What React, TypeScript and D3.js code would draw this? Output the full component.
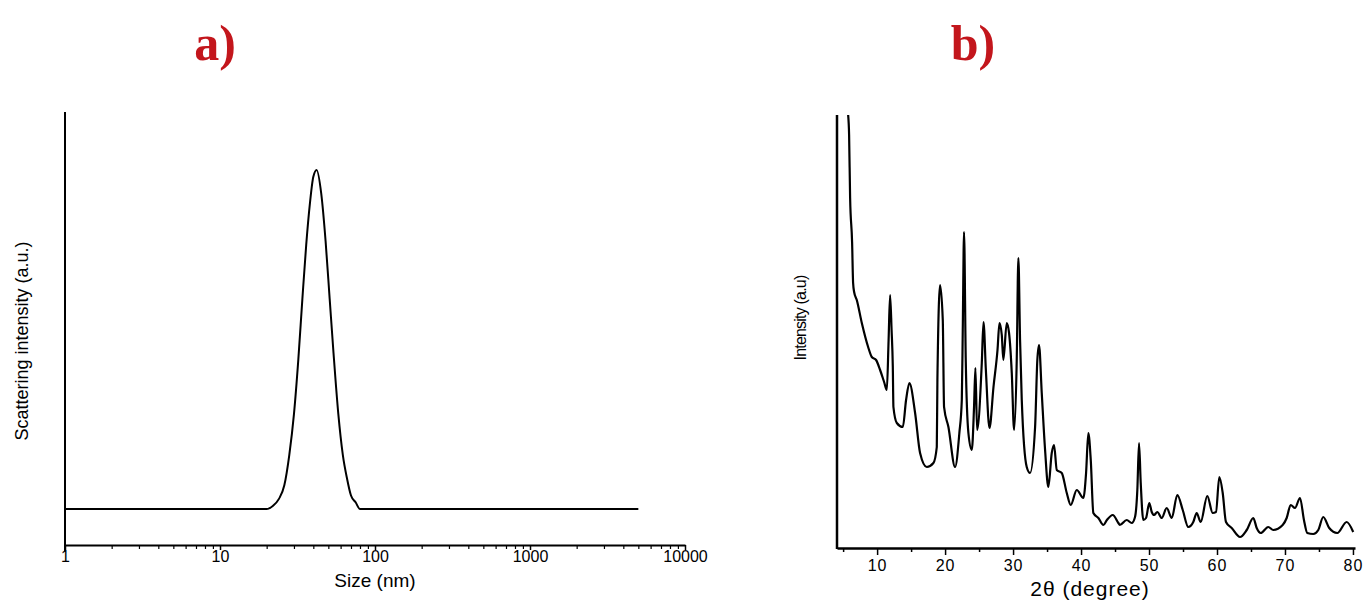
import React, { useEffect, useRef } from "react";
import * as d3 from "d3";

// a) DLS size distribution (nm vs relative intensity)
const dlsSize = [1, 20, 22, 24, 26, 28, 30, 32, 34, 36, 38, 40, 42, 45, 48, 51, 54, 58, 62, 66, 70, 75, 80, 5000];
const dlsIntensity = [0, 0, 1, 3, 7, 16, 28, 44, 62, 78, 90, 98, 100, 93, 79, 62, 46, 28, 16, 9, 4, 2, 0, 0];
const sizeMajor = [1, 10, 100, 1000, 10000];
const sizeMinor = [2, 3, 4, 5, 6, 7, 8, 9, 20, 30, 40, 50, 60, 70, 80, 90, 200, 300, 400, 500, 600, 700, 800, 900, 2000, 3000, 4000, 5000, 6000, 7000, 8000, 9000];

// b) XRD pattern (2theta vs intensity, a.u.)
const xrdAngle = [
  5.74, 5.88, 6.03, 6.32, 6.47, 6.62, 7.01, 7.75, 8.68, 9.22, 9.85, 10.44, 11.03, 11.43, 11.69, 11.91, 12.13, 12.31,
  12.4, 12.9, 13.78, 14.26, 14.75, 15.59, 16.32, 17.31, 18.28, 18.78, 18.87, 19.26, 19.66, 19.85, 20.49, 21.47, 22.1,
  22.46, 22.6, 22.79, 23.04, 23.43, 23.93, 24.26, 24.46, 24.71, 25.4, 25.65, 26.0, 26.53, 27.12, 27.71, 28.0, 28.34,
  28.57, 29.07, 29.41, 29.81, 30.15, 30.54, 30.78, 31.03, 31.28, 32.01, 32.5, 33.24, 33.57, 33.82, 34.22, 34.71, 35.19,
  35.69, 36.03, 36.43, 37.16, 37.9, 38.48, 39.37, 40.34, 40.74, 41.07, 41.43, 41.81, 42.55, 43.28, 43.8, 44.66, 45.49,
  45.7, 46.72, 47.46, 47.94, 48.28, 48.53, 48.78, 49.16, 49.56, 50.04, 50.4, 50.74, 51.22, 51.87, 52.6, 53.34, 54.16,
  54.96, 55.78, 56.51, 57.01, 57.6, 58.57, 59.37, 59.85, 60.34, 60.84, 61.32, 62.16, 63.38, 64.37, 65.34, 65.84, 66.43,
  67.54, 68.28, 69.66, 70.25, 70.84, 71.47, 72.21, 72.79, 73.28, 74.16, 74.9, 75.63, 76.51, 77.69, 79.07, 80.04,
];
const xrdIntensity = [
  433, 413, 350, 306, 265, 256, 248, 225, 201, 191, 188, 178, 166, 158, 208, 253, 218, 181,
  141, 125, 121, 148, 165, 135, 95, 81, 85, 101, 168, 263, 228, 141, 121, 81, 115,
  148, 218, 316, 188, 115, 98, 141, 180, 118, 185, 226, 178, 120, 161, 198, 225, 213,
  188, 225, 215, 175, 118, 188, 290, 208, 148, 81, 75, 121, 188, 203, 155, 98, 61,
  95, 103, 78, 75, 55, 43, 58, 50, 75, 115, 88, 35, 30, 23, 28, 33, 25,
  23, 28, 25, 31, 58, 105, 65, 28, 30, 45, 36, 33, 36, 30, 40, 30, 53,
  38, 21, 26, 35, 26, 52, 35, 36, 71, 55, 26, 20, 11, 18, 30, 20, 15,
  21, 18, 23, 30, 43, 40, 50, 28, 15, 14, 18, 31, 20, 15, 26, 16,
];
const angleMajor = [10, 20, 30, 40, 50, 60, 70, 80];
const angleMinor = [5, 15, 25, 35, 45, 55, 65, 75];

const W = 1368;
const H = 600;
const titleColor = "#c3161c";
const sans = "'Liberation Sans', Arial, sans-serif";

export default function App() {
  const ref = useRef<SVGSVGElement>(null);

  useEffect(() => {
    const svg = d3.select(ref.current);
    svg.selectAll("*").remove();

    // ---------- a) ----------
    const xA = d3.scaleLog().domain([1, 10000]).range([65, 685]);
    const yA = d3.scaleLinear().domain([-10.6, 117.1]).range([545, 112]);
    const gA = svg.append("g");

    gA.append("g")
      .attr("transform", `translate(0,${yA(-10.6)})`)
      .call(d3.axisBottom(xA).tickValues(sizeMajor).tickSize(5).tickSizeOuter(0).tickFormat(d3.format("d")))
      .attr("font-family", sans)
      .attr("font-size", 16)
      .call((g) => g.select(".domain").attr("stroke-width", 2))
      .call((g) => g.selectAll(".tick line").attr("stroke-width", 1.5))
      .call((g) => g.selectAll(".tick text").style("font-size", "16px").attr("y", 6));
    gA.append("g")
      .attr("transform", `translate(0,${yA(-10.6)})`)
      .call(d3.axisBottom(xA).tickValues(sizeMinor).tickSize(4).tickSizeOuter(0).tickFormat(() => ""))
      .call((g) => g.select(".domain").remove())
      .call((g) => g.selectAll(".tick line").attr("stroke-width", 1.2));

    gA.append("line")
      .attr("x1", xA(1)).attr("x2", xA(1))
      .attr("y1", yA(117.1)).attr("y2", yA(-10.6) + 6)
      .attr("stroke", "#000").attr("stroke-width", 2);

    const lineA = d3
      .line<number>()
      .x((d, i) => xA(dlsSize[i]))
      .y((d) => yA(d))
      .curve(d3.curveMonotoneX);
    gA.append("path")
      .datum(dlsIntensity)
      .attr("d", lineA)
      .attr("fill", "none")
      .attr("stroke", "#000")
      .attr("stroke-width", 2);

    gA.append("text")
      .attr("x", 375).attr("y", 587)
      .attr("text-anchor", "middle")
      .attr("font-family", sans).attr("font-size", 19)
      .text("Size (nm)");
    gA.append("text")
      .attr("transform", "translate(28,341) rotate(-90)")
      .attr("text-anchor", "middle")
      .attr("font-family", sans).attr("font-size", 18)
      .text("Scattering intensity (a.u.)");

    // ---------- b) ----------
    const xB = d3.scaleLinear().domain([4.1, 80.3]).range([837, 1355]);
    const yB = d3.scaleLinear().domain([0, 433]).range([548, 115]);
    const gB = svg.append("g");

    svg.append("defs").append("clipPath").attr("id", "clipB")
      .append("rect").attr("x", 837).attr("y", 115).attr("width", 520).attr("height", 433);

    gB.append("g")
      .attr("transform", `translate(0,548)`)
      .call(d3.axisBottom(xB).tickValues(angleMajor).tickSize(7).tickSizeOuter(0))
      .attr("font-family", sans)
      .attr("font-size", 16)
      .call((g) => g.select(".domain").attr("stroke-width", 2.5))
      .call((g) => g.selectAll(".tick line").attr("stroke-width", 1.5))
      .call((g) => g.selectAll(".tick text").style("font-size", "16px").attr("letter-spacing", 1).attr("y", 12));
    gB.append("g")
      .attr("transform", `translate(0,548)`)
      .call(d3.axisBottom(xB).tickValues(angleMinor).tickSize(4).tickSizeOuter(0).tickFormat(() => ""))
      .call((g) => g.select(".domain").remove())
      .call((g) => g.selectAll(".tick line").attr("stroke-width", 1.5));

    gB.append("line")
      .attr("x1", 837).attr("x2", 837)
      .attr("y1", 115).attr("y2", 549)
      .attr("stroke", "#000").attr("stroke-width", 2.5);

    const lineB = d3
      .line<number>()
      .x((d, i) => xB(xrdAngle[i]))
      .y((d) => yB(d))
      .curve(d3.curveMonotoneX);
    gB.append("path")
      .datum(xrdIntensity)
      .attr("d", lineB)
      .attr("clip-path", "url(#clipB)")
      .attr("fill", "none")
      .attr("stroke", "#000")
      .attr("stroke-width", 2.2)
      .attr("stroke-linejoin", "round");

    gB.append("text")
      .attr("x", 1090).attr("y", 596)
      .attr("text-anchor", "middle")
      .attr("font-family", sans).attr("font-size", 21).attr("letter-spacing", 1)
      .text("2θ (degree)");
    gB.append("text")
      .attr("transform", "translate(806,318) rotate(-90)")
      .attr("text-anchor", "middle")
      .attr("font-family", sans).attr("font-size", 16).attr("letter-spacing", -0.8)
      .text("Intensity (a.u)");

    // panel letters
    [["a)", 215], ["b)", 973]].forEach(([t, x]) => {
      svg.append("text")
        .attr("x", x as number).attr("y", 60)
        .attr("text-anchor", "middle")
        .attr("font-family", "'Liberation Serif', 'Times New Roman', serif")
        .attr("font-weight", "bold").attr("font-size", 50)
        .attr("fill", titleColor)
        .text(t as string);
    });
  }, []);

  return (
    <svg
      ref={ref}
      width={W}
      height={H}
      style={{ position: "absolute", left: 0, top: 0, background: "#fff" }}
    />
  );
}
